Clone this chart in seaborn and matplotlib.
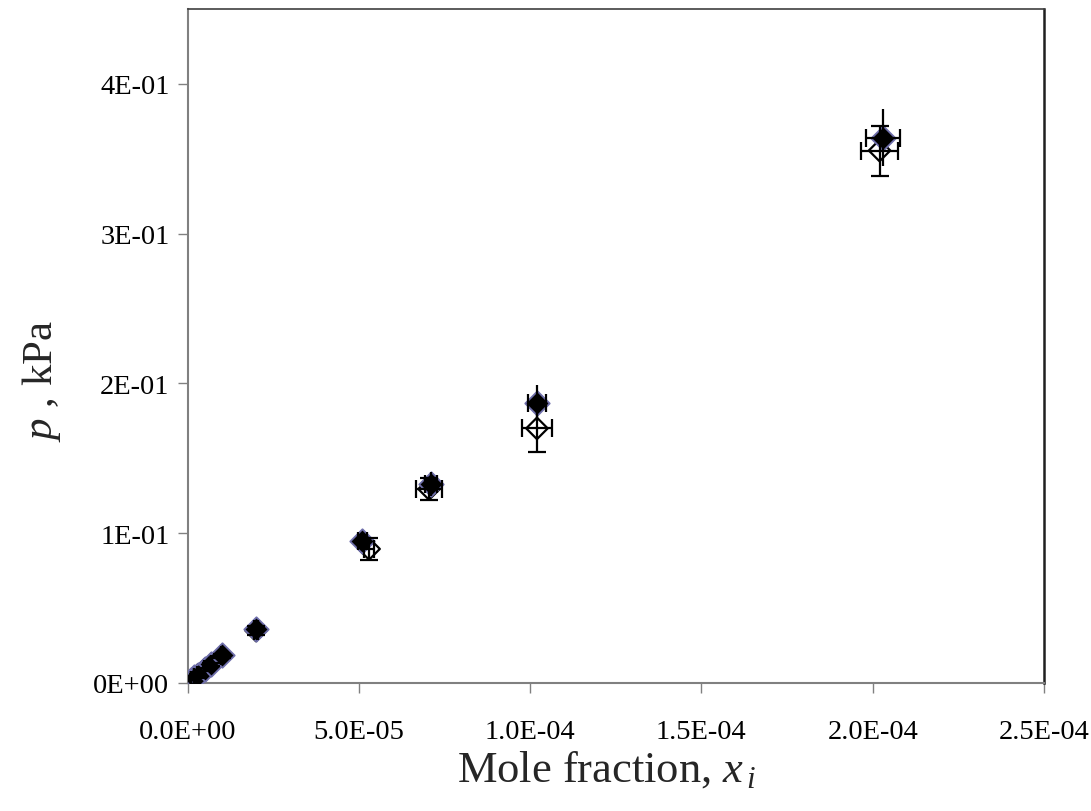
import numpy as np
import pandas as pd
import matplotlib
matplotlib.use("Agg")
import matplotlib.pyplot as plt
from matplotlib.ticker import FuncFormatter
import seaborn as sns

# ---- data ----
x_filled = [1.0e-6, 2.0e-6, 3.0e-6, 5.0e-6, 7.0e-6, 1.0e-5, 2.0e-5, 5.1e-5, 7.1e-5, 1.02e-4, 2.03e-4]
y_filled = [0.002, 0.004, 0.0055, 0.0095, 0.013, 0.019, 0.036, 0.095, 0.133, 0.187, 0.364]
xerr_filled = [2e-8, 4e-8, 6e-8, 1e-7, 1.4e-7, 2e-7, 5e-7, 1.3e-6, 1.8e-6, 2.6e-6, 5.1e-6]
yerr_filled = [0.0001, 0.0002, 0.0003, 0.0005, 0.0007, 0.001, 0.002, 0.005, 0.008, 0.012, 0.019]

x_open = [1.0e-6, 2.0e-6, 3.0e-6, 5.0e-6, 7.0e-6, 1.0e-5, 2.0e-5, 5.3e-5, 7.05e-5, 1.02e-4, 2.02e-4]
y_open = [0.0018, 0.0036, 0.0053, 0.009, 0.0125, 0.018, 0.035, 0.0895, 0.1295, 0.17, 0.3555]
xerr_open = [3e-8, 6e-8, 9e-8, 1.5e-7, 2e-7, 3e-7, 6e-7, 1.5e-6, 3.7e-6, 4.5e-6, 5.5e-6]
yerr_open = [0.0001, 0.0003, 0.0004, 0.0007, 0.001, 0.0014, 0.003, 0.0073, 0.0075, 0.016, 0.0167]

x_ticks = [0.0, 5.0e-5, 1.0e-4, 1.5e-4, 2.0e-4, 2.5e-4]
y_ticks = [0.0, 0.1, 0.2, 0.3, 0.4]

df_f = pd.DataFrame({"x": x_filled, "y": y_filled})
df_o = pd.DataFrame({"x": x_open, "y": y_open})

sns.set_theme(style="white")
plt.rcParams["font.family"] = ["Liberation Serif", "DejaVu Serif"]
plt.rcParams["mathtext.fontset"] = "custom"
plt.rcParams["mathtext.rm"] = "Liberation Serif"
plt.rcParams["mathtext.it"] = "Liberation Serif:italic"

fig = plt.figure(figsize=(10.91, 8.12), dpi=100)
ax = fig.add_axes([187.5 / 1091, 1 - 684 / 812, (1044 - 187.5) / 1091, (684 - 10) / 812])

# open diamonds
sns.scatterplot(data=df_o, x="x", y="y", ax=ax, marker="D", s=120,
                facecolor="none", edgecolor="black", linewidth=1.6, zorder=2)
# filled diamonds
sns.scatterplot(data=df_f, x="x", y="y", ax=ax, marker="D", s=155,
                color="black", edgecolor="#6e6eaa", linewidth=1.3, zorder=3)

ax.errorbar(x_open, y_open, xerr=xerr_open, yerr=yerr_open, fmt="none",
            ecolor="black", elinewidth=1.6, capsize=6.5, capthick=1.6, zorder=4)
ax.errorbar(x_filled, y_filled, xerr=xerr_filled, fmt="none",
            ecolor="black", elinewidth=1.6, capsize=6.5, capthick=1.6, zorder=4)
ax.errorbar(x_filled, y_filled, yerr=yerr_filled, fmt="none",
            ecolor="black", elinewidth=1.6, capsize=0, zorder=4)

ax.set_xlim(0, 2.5e-4)
ax.set_ylim(0, 0.45)
ax.set_xticks(x_ticks)
ax.set_yticks(y_ticks)
ax.xaxis.set_major_formatter(FuncFormatter(lambda v, p: f"{v:.1E}"))
ax.yaxis.set_major_formatter(FuncFormatter(lambda v, p: f"{v:.0E}"))
ax.tick_params(axis="both", which="major", direction="out", length=7, width=1,
               color="#808080", labelsize=20.5, labelcolor="black")
ax.tick_params(axis="x", pad=19)
ax.tick_params(axis="y", pad=6)
ax.tick_params(left=True, bottom=True)

for side in ["left", "bottom"]:
    ax.spines[side].set_color("#808080")
    ax.spines[side].set_linewidth(1.5)
ax.spines["top"].set_color("#404040")
ax.spines["top"].set_linewidth(1.2)
ax.spines["right"].set_color("#202020")
ax.spines["right"].set_linewidth(1.8)

ax.set_xlabel(r"Mole fraction, $x_{\,i}$", fontsize=32)
ax.set_ylabel(r"$p$ , kPa", fontsize=31)
ax.xaxis.set_label_coords(0.489, -0.097)
ax.yaxis.set_label_coords(-0.145, 0.45)

fig.savefig("out.png", dpi=100, facecolor="white")
